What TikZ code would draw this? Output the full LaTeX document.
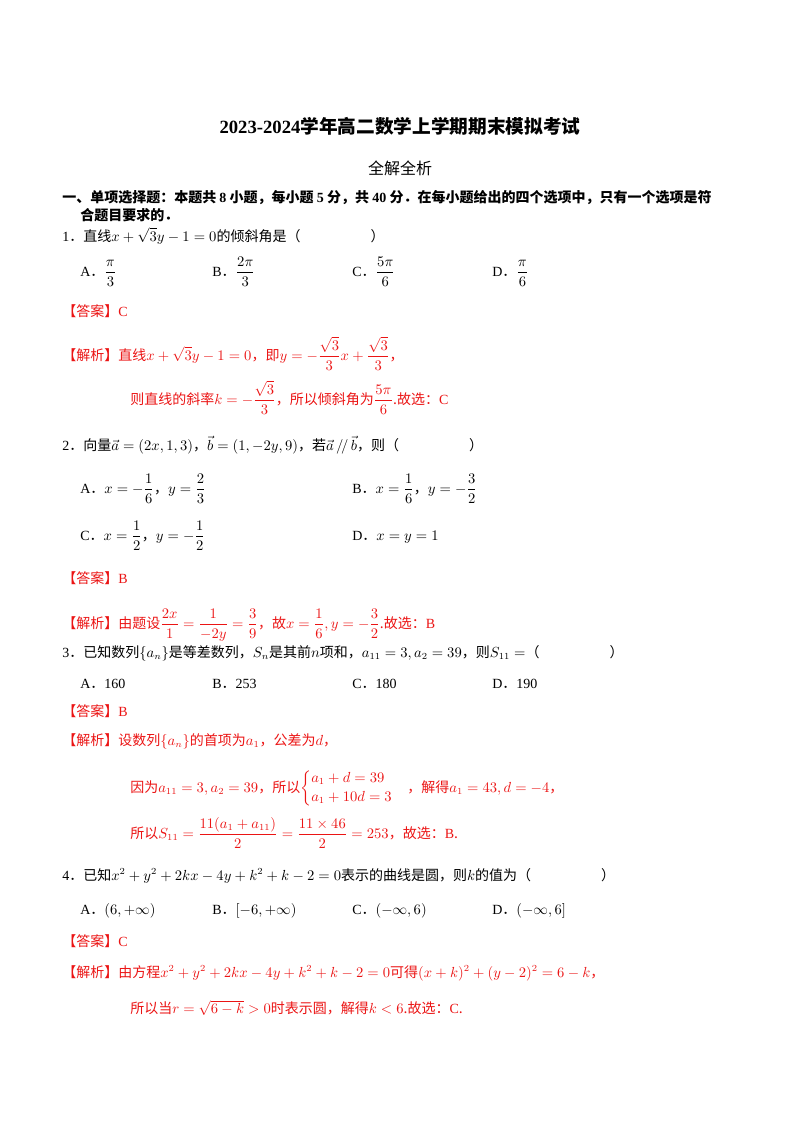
\documentclass[tikz,border=0pt]{standalone}
\usepackage{amsmath}
\usepackage{fontspec}
\setmainfont{Noto Sans CJK SC}
\newfontfamily\lat{Liberation Serif}
\definecolor{rd}{RGB}{235,20,20}
\begin{document}
\begin{tikzpicture}[x=0.75pt,y=-0.75pt,
  t/.style={anchor=base west,inner sep=0,font=\fontsize{10.5}{12}\selectfont},
  r/.style={t,text=rd}]
\useasboundingbox (0,0) rectangle (800,1132);
\node[anchor=base,inner sep=0,font=\fontsize{14}{16}\selectfont\bfseries] (title) at (400,133) {{\lat\bfseries 2023-2024}学年高二数学上学期期末模拟考试};
\node[anchor=base,inner sep=0,font=\fontsize{12}{14}\selectfont] (sub) at (400,174) {全解全析};
\node[t,font=\fontsize{10.5}{12}\selectfont\bfseries] (s1) at (62,202) {一、单项选择题：本题共 {\lat 8} 小题，每小题 {\lat 5} 分，共 {\lat 40} 分．在每小题给出的四个选项中，只有一个选项是符};
\node[t,font=\fontsize{10.5}{12}\selectfont\bfseries] (s2) at (80,220) {合题目要求的．};
% Q1
\node[t] (q1) at (62,241) {{\lat 1}．直线$x+\sqrt3y-1=0$的倾斜角是（\hspace{5em}）};
\node[t] (q1a) at (80,276) {{\lat A}．$\dfrac{\pi}{3}$};
\node[t] (q1b) at (212,276) {{\lat B}．$\dfrac{2\pi}{3}$};
\node[t] (q1c) at (352,276) {{\lat C}．$\dfrac{5\pi}{6}$};
\node[t] (q1d) at (492,276) {{\lat D}．$\dfrac{\pi}{6}$};
\node[r] (a1) at (62,316) {【答案】{\lat C}};
\node[r] (j1) at (62,360) {【解析】直线$x+\sqrt3y-1=0$，即$y=-\dfrac{\sqrt3}{3}x+\dfrac{\sqrt3}{3}$，};
\node[r] (j1b) at (130,404) {则直线的斜率$k=-\dfrac{\sqrt3}{3}$，所以倾斜角为$\dfrac{5\pi}{6}$.故选：{\lat C}};
% Q2
\node[t] (q2) at (62,450) {{\lat 2}．向量$\vec a=(2x,1,3)$，$\vec b=(1,-2y,9)$，若$\vec a\,/\!/\,\vec b$，则（\hspace{5em}）};
\node[t] (q2a) at (80,493) {{\lat A}．$x=-\dfrac16$，$y=\dfrac23$};
\node[t] (q2b) at (352,493) {{\lat B}．$x=\dfrac16$，$y=-\dfrac32$};
\node[t] (q2c) at (80,540) {{\lat C}．$x=\dfrac12$，$y=-\dfrac12$};
\node[t] (q2d) at (352,540) {{\lat D}．$x=y=1$};
\node[r] (a2) at (62,583) {【答案】{\lat B}};
\node[r] (j2) at (62,628) {【解析】由题设$\dfrac{2x}{1}=\dfrac{1}{-2y}=\dfrac39$，故$x=\dfrac16,y=-\dfrac32$.故选：{\lat B}};
% Q3
\node[t] (q3) at (62,657) {{\lat 3}．已知数列$\{a_n\}$是等差数列，$S_n$是其前$n$项和，$a_{11}=3,a_2=39$，则$S_{11}=$（\hspace{5em}）};
\node[t] (q3a) at (80,688) {{\lat A}．{\lat 160}};
\node[t] (q3b) at (212,688) {{\lat B}．{\lat 253}};
\node[t] (q3c) at (352,688) {{\lat C}．{\lat 180}};
\node[t] (q3d) at (492,688) {{\lat D}．{\lat 190}};
\node[r] (a3) at (62,716) {【答案】{\lat B}};
\node[r] (j3) at (62,745) {【解析】设数列$\{a_n\}$的首项为$a_1$，公差为$d$，};
\node[r] (j3b) at (130,792) {因为$a_{11}=3,a_2=39$，所以$\begin{cases}a_1+d=39\\a_1+10d=3\end{cases}$，解得$a_1=43,d=-4$，};
\node[r] (j3c) at (130,838) {所以$S_{11}=\dfrac{11(a_1+a_{11})}{2}=\dfrac{11\times46}{2}=253$，故选：{\lat B}.};
% Q4
\node[t] (q4) at (62,880) {{\lat 4}．已知$x^2+y^2+2kx-4y+k^2+k-2=0$表示的曲线是圆，则$k$的值为（\hspace{5em}）};
\node[t] (q4a) at (80,914) {{\lat A}．$(6,+\infty)$};
\node[t] (q4b) at (212,914) {{\lat B}．$[-6,+\infty)$};
\node[t] (q4c) at (352,914) {{\lat C}．$(-\infty,6)$};
\node[t] (q4d) at (492,914) {{\lat D}．$(-\infty,6]$};
\node[r] (a4) at (62,946) {【答案】{\lat C}};
\node[r] (j4) at (62,977) {【解析】由方程$x^2+y^2+2kx-4y+k^2+k-2=0$可得$(x+k)^2+(y-2)^2=6-k$，};
\node[r] (j4b) at (130,1013) {所以当$r=\sqrt{6-k}>0$时表示圆，解得$k<6$.故选：{\lat C}.};
\end{tikzpicture}
\end{document}
